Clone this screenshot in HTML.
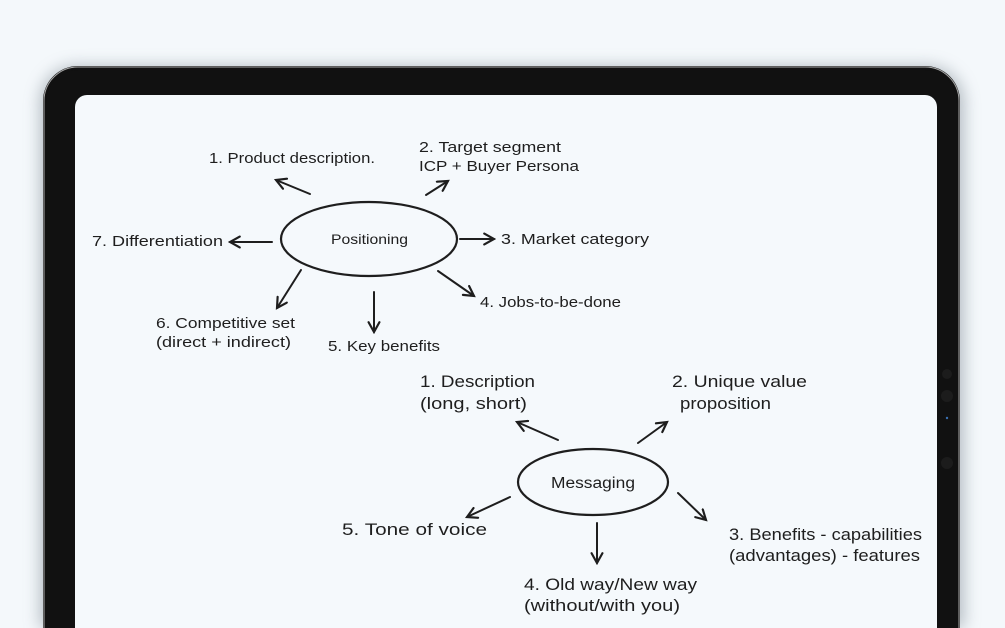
<!DOCTYPE html>
<html><head><meta charset="utf-8"><style>
html,body{margin:0;padding:0;background:#f4f8fb;width:1005px;height:628px;overflow:hidden}
svg{display:block}
text{font-family:"Liberation Sans",sans-serif;fill:#1e1e1e}
</style></head><body>
<svg width="1005" height="628" viewBox="0 0 1005 628" xmlns="http://www.w3.org/2000/svg">
<defs>
<filter id="sh" x="-10%" y="-10%" width="120%" height="130%"><feGaussianBlur stdDeviation="8"/></filter>
<marker id="ah" viewBox="0 0 12 12" refX="10" refY="6" markerWidth="13" markerHeight="13" orient="auto" markerUnits="userSpaceOnUse">
<path d="M1,1 L10,6 L1,11" fill="none" stroke="#1e1e1e" stroke-width="2" stroke-linecap="round"/></marker>
</defs>
<rect x="0" y="0" width="1005" height="628" fill="#f4f8fb"/>
<path d="M40,628 V102 A36,36 0 0 1 76,66 H928 A36,36 0 0 1 964,102 V628 Z" fill="#9aa3ab" filter="url(#sh)" opacity="0.7"/>
<path d="M43,628 V101 A35,35 0 0 1 78,66 H925 A35,35 0 0 1 960,101 V628 Z" fill="#111"/>
<path d="M44,628 V101 A34,34 0 0 1 78,67 H925 A34,34 0 0 1 959,101 V628" fill="none" stroke="#aaa" stroke-width="1"/>
<path d="M46,628 V103 A33,33 0 0 1 79,70 H924 A33,33 0 0 1 957,103 V628 Z" fill="#111"/>
<path d="M75,628 V107 A12,12 0 0 1 87,95 H925 A12,12 0 0 1 937,107 V628 Z" fill="#f5f9fc"/>
<circle cx="947" cy="374" r="5" fill="#1c1c1c"/>
<circle cx="947" cy="396" r="6" fill="#1c1c1c"/>
<circle cx="947" cy="418" r="1.2" fill="#3a6fb0"/>
<circle cx="947" cy="463" r="6" fill="#1c1c1c"/>

<g fill="none" stroke="#1e1e1e" stroke-width="2.2" stroke-linecap="round">
<ellipse cx="369" cy="239" rx="88" ry="37"/>
<ellipse cx="593" cy="482" rx="75" ry="33"/>
</g>
<g stroke="#1e1e1e" stroke-width="2" stroke-linecap="round" marker-end="url(#ah)">
<line x1="310" y1="194" x2="276" y2="180"/>
<line x1="426" y1="195" x2="448" y2="181"/>
<line x1="460" y1="239" x2="494" y2="239"/>
<line x1="438" y1="271" x2="474" y2="296"/>
<line x1="374" y1="292" x2="374" y2="332"/>
<line x1="301" y1="270" x2="277" y2="308"/>
<line x1="272" y1="242" x2="230" y2="242"/>
<line x1="558" y1="440" x2="517" y2="422"/>
<line x1="638" y1="443" x2="667" y2="422"/>
<line x1="678" y1="493" x2="706" y2="520"/>
<line x1="597" y1="523" x2="597" y2="563"/>
<line x1="510" y1="497" x2="467" y2="517"/>
</g>
<g font-size="14.5">
<text x="209" y="163" textLength="166" lengthAdjust="spacingAndGlyphs">1. Product description.</text>
<text x="419" y="152" textLength="142" lengthAdjust="spacingAndGlyphs">2. Target segment</text>
<text x="419" y="171" textLength="160" lengthAdjust="spacingAndGlyphs">ICP + Buyer Persona</text>
<text x="501" y="244" textLength="148" lengthAdjust="spacingAndGlyphs">3. Market category</text>
<text x="480" y="307" textLength="141" lengthAdjust="spacingAndGlyphs">4. Jobs-to-be-done</text>
<text x="328" y="351" textLength="112" lengthAdjust="spacingAndGlyphs">5. Key benefits</text>
<text x="156" y="328" textLength="139" lengthAdjust="spacingAndGlyphs">6. Competitive set</text>
<text x="156" y="347" textLength="135" lengthAdjust="spacingAndGlyphs">(direct + indirect)</text>
<text x="92" y="246" textLength="131" lengthAdjust="spacingAndGlyphs">7. Differentiation</text>
<text x="331" y="244" font-size="14" textLength="77" lengthAdjust="spacingAndGlyphs">Positioning</text>
</g>
<g font-size="16.5">
<text x="420" y="387" textLength="115" lengthAdjust="spacingAndGlyphs">1. Description</text>
<text x="420" y="409" textLength="107" lengthAdjust="spacingAndGlyphs">(long, short)</text>
<text x="672" y="387" textLength="135" lengthAdjust="spacingAndGlyphs">2. Unique value</text>
<text x="680" y="409" textLength="91" lengthAdjust="spacingAndGlyphs">proposition</text>
<text x="551" y="488" font-size="15.5" textLength="84" lengthAdjust="spacingAndGlyphs">Messaging</text>
<text x="729" y="540" textLength="193" lengthAdjust="spacingAndGlyphs">3. Benefits - capabilities</text>
<text x="729" y="561" textLength="191" lengthAdjust="spacingAndGlyphs">(advantages) - features</text>
<text x="524" y="590" textLength="173" lengthAdjust="spacingAndGlyphs">4. Old way/New way</text>
<text x="524" y="611" textLength="156" lengthAdjust="spacingAndGlyphs">(without/with you)</text>
<text x="342" y="535" textLength="145" lengthAdjust="spacingAndGlyphs">5. Tone of voice</text>
</g>
</svg>
</body></html>
